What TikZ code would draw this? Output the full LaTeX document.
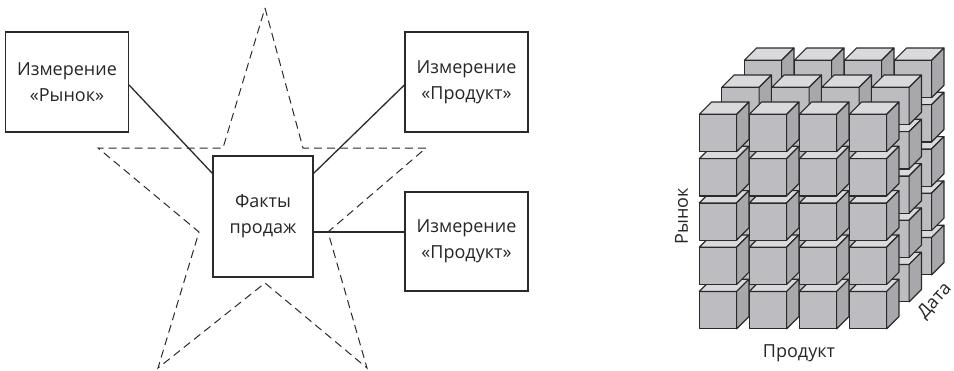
\documentclass[tikz,border=0pt]{standalone}
\usepackage{fontspec}
\setmainfont{Open Sans}
\definecolor{edge}{HTML}{2A2A2A}
\definecolor{facefront}{HTML}{BDBDC1}
\definecolor{facetop}{HTML}{DADADC}
\definecolor{faceside}{HTML}{A8A8AC}
\tikzset{
  dimbox/.style={draw=edge, line width=1.2pt, minimum width=123pt, minimum height=100pt, inner sep=0pt, align=center, font=\fontsize{18}{26}\selectfont, text=black!85},
  factbox/.style={draw=edge, line width=1.2pt, minimum width=100pt, minimum height=121pt, inner sep=0pt, align=center, font=\fontsize{18}{26}\selectfont, text=black!85},
  link/.style={draw=edge, line width=1.3pt},
  starline/.style={draw=edge, line width=1pt, dash pattern=on 8pt off 5pt},
  cubeedge/.style={draw=edge, line width=1.2pt, line join=round},
  axislabel/.style={font=\fontsize{18}{20}\selectfont, text=black!85, inner sep=0pt}
}
\newcommand{\cubeat}[2]{%
  \filldraw[cubeedge, fill=facefront] (#1,#2) rectangle ++(37.3,37.3);
  \filldraw[cubeedge, fill=facetop] (#1,#2) -- ++(12.3,-12.3) -- ++(37.3,0) -- ++(-12.3,12.3) -- cycle;
  \filldraw[cubeedge, fill=faceside] (#1+37.3,#2) -- ++(12.3,-12.3) -- ++(0,37.3) -- ++(-12.3,12.3) -- cycle;
}
\begin{document}
\begin{tikzpicture}[x=1pt,y=-1pt]
\useasboundingbox (0,0) rectangle (954,370);
% star
\draw[starline] (265,8) -- (303,148) -- (426,148) -- (328,232) -- (367,368) -- (265,283) -- (158,368) -- (199,232) -- (98,148) -- (223,148) -- cycle;
% boxes
\node[dimbox, fill=white] (market) at (67,82) {Измерение\\«Рынок»};
\node[dimbox, fill=white] (prod1) at (466.5,82) {Измерение\\«Продукт»};
\node[dimbox, fill=white, minimum height=99pt] (prod2) at (466.5,241.5) {Измерение\\«Продукт»};
\node[factbox, fill=white] (facts) at (263,216.5) {Факты\\продаж};
% connectors
\draw[link] ([yshift=-3pt]market.east) -- ([yshift=-18pt]facts.north west);
\draw[link] ([yshift=-18pt]facts.north east) -- ([yshift=-3pt]prod1.west);
\draw[link] ([yshift=-15.5pt]facts.east) -- ([yshift=9.5pt]prod2.west);
% cube
\foreach \l in {2,1,0}{
  \foreach \r in {4,3,2,1,0}{
    \foreach \c in {0,1,2,3}{
      \cubeat{699.3+50*\c+22.5*\l}{114.3+44.3*\r-27*\l}
    }
  }
}
\node[axislabel, rotate=90] (rynok) at (681.5,216.5) {Рынок};
\node[axislabel] (produkt) at (799,353) {Продукт};
\node[axislabel, rotate=48] (data) at (935,301) {Дата};
\end{tikzpicture}
\end{document}
